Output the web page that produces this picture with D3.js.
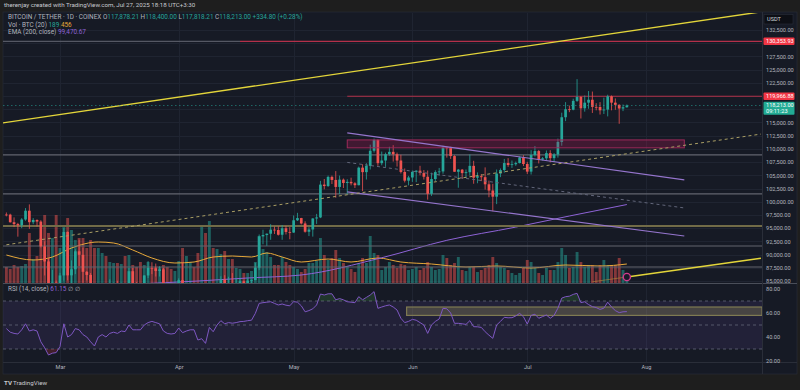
<!DOCTYPE html>
<html>
<head>
<meta charset="utf-8">
<script src="https://d3js.org/d3.v7.min.js"></script>
<style>
  body { margin: 0; background: #1e1e1e; }
  svg { display: block; font-family: Roboto, "Noto Sans", sans-serif; }
</style>
</head>
<body>
<svg id="chart" width="800" height="390"></svg>
<script>
// ---- data (daily BTC/USDT, CoinEx, Feb 15 - Jul 27 2025) ----
const firstDay = Date.UTC(2025, 1, 15);

// [open, high, low, close]
const ohlc = [
  [97580,97970,97230,97560],[97560,97730,96050,96120],[96120,97040,95200,95770],[95770,96000,93390,95540],
  [95540,96900,95000,96640],[96640,98800,96400,98300],[98300,99500,94870,96130],[96130,96900,95750,96550],
  [96550,96670,95300,96250],[96250,96500,91350,91550],[91550,92500,86050,88700],[88700,89300,82250,84250],
  [84250,87100,82750,84700],[84700,85100,78250,84350],
  // Mar
  [84350,86550,83800,86050],[86050,95000,85050,94270],[94270,94400,85100,86070],[86070,88900,81400,87220],
  [87220,91000,86300,90620],[90620,92800,87850,89960],[89960,91300,84650,86740],[86740,86900,85100,86150],
  [86150,86500,80000,80730],[80730,84100,77450,78600],[78600,83600,76550,82930],[82930,84350,80650,83680],
  [83680,84300,79950,81100],[81100,85300,80800,83980],[83980,84700,83650,84340],[84340,85050,82000,82580],
  [82580,84700,82400,84010],[84010,84050,81150,82720],[82720,87450,82600,86850],[86850,87450,83650,84170],
  [84170,84800,83200,84040],[84040,84600,83650,83830],[83830,86100,83200,86050],[86050,88750,85550,87500],
  [87500,88550,86300,87400],[87400,88300,85850,86900],[86900,87800,85850,87200],[87200,87500,83650,84350],
  [84350,84550,81650,82650],[82650,83500,81550,82390],[82390,83950,81300,82550],
  // Apr
  [82550,85500,82450,85160],[85160,88500,82300,82520],[82520,83950,81200,83100],[83100,84700,81650,83850],
  [83850,84250,82350,83500],[83500,83800,77150,78400],[78400,81250,74500,79150],[79150,80850,76150,76300],
  [76300,83550,74600,82600],[82600,82700,78450,79600],[79600,84250,78950,83420],[83420,85900,82800,85280],
  [85280,86100,83050,83740],[83740,85800,83680,84540],[84540,86500,83600,83670],[83670,85500,83100,84030],
  [84030,85450,83750,84940],[84940,85100,84250,84450],[84450,85600,84350,85060],[85060,85300,83950,85170],
  [85170,88450,85150,87520],[87520,93800,87050,93440],[93440,94700,91950,93700],[93700,94000,91650,93950],
  [93950,95750,92800,94720],[94720,95300,93900,94650],[94650,95350,93600,93750],[93750,95600,92800,94980],
  [94980,95450,93800,94280],[94280,95200,92900,94170],
  // May
  [94170,97400,94100,96490],[96490,97900,96350,96910],[96910,96950,95700,95890],[95890,96300,94150,94320],
  [94320,95200,93500,94750],[94750,96900,93400,96830],[96830,97700,95800,97030],[97030,103950,96900,103240],
  [103240,104300,102350,102970],[102970,104950,102800,104700],[104700,104950,103350,104120],[104120,105800,100750,102800],
  [102800,104950,101450,104180],[104180,104400,102600,103550],[103550,104250,101400,103760],[103760,104550,103100,103490],
  [103490,103700,102600,103130],[103130,106650,103100,106450],[106450,107100,102000,105600],[105600,107300,104200,106790],
  [106790,110800,106100,109650],[109650,111950,109300,111700],[111700,111800,106800,107300],[107300,109500,106900,107800],
  [107800,109300,106600,109000],[109000,110400,108700,109440],[109440,110700,107600,108990],[108990,109300,106650,107800],
  [107800,108900,105350,105640],[105640,106300,103650,103990],[103990,104900,103100,104590],
  // Jun
  [104590,105900,103750,105650],[105650,105950,103700,105880],[105880,106800,105000,105430],[105430,106000,104200,104730],
  [104730,105900,100400,101510],[101510,105500,101100,104290],[104290,105950,103900,105610],[105610,106400,104950,105730],
  [105730,110600,105300,110260],[110260,110400,108350,110250],[110250,110400,108100,108640],[108640,108800,105700,105670],
  [105670,106200,102650,106070],[106070,106200,104300,105420],[105420,106100,104500,105590],[105590,108950,104950,106790],
  [106790,107750,103400,104550],[104550,105550,103500,104830],[104830,105250,103900,104650],[104650,106500,102300,103300],
  [103300,104000,100850,102120],[102120,103400,98200,100960],[100960,106100,99550,105330],[105330,106300,104650,106000],
  [106000,108100,105500,107320],[107320,108250,106600,106950],[106950,107800,106400,107100],[107100,107600,106800,107320],
  [107320,108550,107250,108380],[108380,108800,106750,107140],
  // Jul
  [107140,107550,105250,105700],[105700,109750,105150,108850],[108850,110550,108550,109590],[109590,109800,107250,107980],
  [107980,108450,107800,108220],[108220,109700,107800,109200],[109200,109750,107450,108250],[108250,109200,107500,108950],
  [108950,111950,108350,111320],[111320,116850,110600,115990],[115990,118850,115250,117500],[117500,118200,116950,117420],
  [117420,119500,117300,119090],[119090,123200,118900,119840],[119840,119950,115750,117680],[117680,120100,117050,118750],
  [118750,120950,117600,119300],[119300,120850,116800,117950],[117950,118650,117300,117930],[117930,118850,116500,117300],
  [117300,119700,116600,117440],[117440,120250,116150,119950],[119950,120100,117300,118750],[118750,119550,117400,118340],
  [118340,118450,114750,117640],[117640,118400,117150,117880],[117878.21,118400,117818.21,118213]
];

// volume, BTC
const volume = [
  384,336,432,384,408,456,1200,576,648,1080,1632,1200,1080,1632,
  840,1368,1560,1272,1032,1080,1080,840,1032,840,840,720,648,504,480,480,456,648,672,432,384,504,432,504,360,384,384,432,384,336,288,
  528,840,648,504,384,720,1392,1200,1488,840,816,696,768,576,576,360,336,240,240,288,504,1128,816,744,624,432,432,624,504,432,
  384,336,264,336,480,480,528,1080,672,552,600,792,600,480,408,336,264,480,600,480,1128,720,672,312,384,504,432,360,456,432,312,
  336,384,312,360,504,384,312,336,672,600,432,480,624,312,288,384,384,264,312,360,432,624,480,384,360,312,240,192,240,360,
  552,504,360,240,192,360,312,312,504,840,672,360,384,744,504,384,432,432,264,432,552,432,432,432,600,312,189
];

// Vol MA(20) read at sample dates
const volMA = [
  ["2025-02-15",672],["2025-02-22",552],["2025-02-27",624],["2025-03-04",840],["2025-03-11",984],["2025-03-15",960],
  ["2025-03-20",792],["2025-03-25",600],["2025-03-31",480],["2025-04-05",504],["2025-04-10",624],["2025-04-15",648],
  ["2025-04-20",624],["2025-04-24",720],["2025-04-28",624],["2025-05-03",504],["2025-05-10",576],["2025-05-16",504],
  ["2025-05-23",600],["2025-05-29",504],["2025-06-06",456],["2025-06-15",384],["2025-06-23",408],["2025-07-02",360],
  ["2025-07-11",432],["2025-07-20",408],["2025-07-27",456]
];

// EMA(200) read at sample dates
const ema200 = [
  ["2025-03-20",84400],["2025-04-06",85000],["2025-04-19",85570],["2025-05-03",86140],["2025-05-24",89400],
  ["2025-06-10",92700],["2025-06-28",95200],["2025-07-12",97300],["2025-07-27",99470.67]
];

// RSI(14)
const rsi = [
  47,44,43,42.5,46,51,45,46,45,36,31,25,26.5,27,
  32,51,40,42,47,46,42,40,36,32.5,40,42,40,43,44,43,45,44.5,50,46,46,46,50,52,53,52,51,45,43,42.5,43,
  47.5,43.6,45,46,46,37.5,38.6,34.7,48,44.4,50,53.6,51,52,51.5,52,52.8,53,53.6,54,59.7,68,68.6,69,69.4,68,66.7,67.5,66.5,66,
  69.5,69,66,61,62,63.5,66.7,75.8,75,76,76,71,72,71,69.4,69,68.6,73.6,71,73,75,77.8,63.9,65,66,66.7,65,62.5,55.6,52,53,
  54.7,54,52,50,43,50,53,55,63.9,63.5,60,51.4,51.4,51,50.5,53.6,48.6,48.5,48,44.4,41.5,38.9,50,53,56.4,56,56.1,57.5,59.7,56.9,
  50.8,58,59,55.6,57,58.3,55.6,58,64,72.4,73.6,74,75.5,76.4,68.6,69.4,67,65.3,64.5,63,64,69,65,62,60.3,61,61.15
];

const priceTicks = d3.range(85000, 133000, 2500).filter(v => ![117500, 120000, 130000].includes(v));
const rsiTicks = [80, 60, 40, 20];
const months = ["2025-03-01","2025-04-01","2025-05-01","2025-06-01","2025-07-01","2025-08-01"];

// horizontal levels & drawings
const grayLevels = [108860, 101480, 91630, 87650];
const oliveLevel = 95400;
const topLevel = { price: 130353.93, from: "2025-04-17" };
const resLevel = { price: 119966.88, from: "2025-05-15" };
const supplyBox = { from: "2025-05-15", to: "2025-08-11", lo: 110200, hi: 111700 };
const channelTop = [["2025-05-15",113030],["2025-08-11",104130]];
const channelBot = [["2025-05-15",101860],["2025-08-11",93520]];
const channelMid = [["2025-05-15",107445],["2025-08-11",98825]];
const trendMain = [["2025-02-14",114910],["2025-08-31",135930]];
const trendDash = [["2025-02-15",91856],["2025-08-31",112803]];
const trendLow = [["2025-07-27",85760],["2025-08-31",89300]];
const trendLowFaint = [["2025-07-18",84850],["2025-07-27",85760]];
const rsiBox = { from: "2025-05-30T12:00:00Z", lo: 58, hi: 65 };
const lastPrice = 118213.00;

// ---- setup ----
const svg = d3.select("#chart");
const W = 800, H = 390;
const L = 3, R = 762, priceTop = 13, priceBot = 283, rsiTop = 284, rsiBot = 362, axisBot = 374;
const teal = "#26a69a", red = "#ef5350";
const pd = s => new Date(s.length > 10 ? s : s + "T00:00:00Z");
const dayDate = i => new Date(firstDay + i * 864e5);

const x = d3.scaleUtc().domain([pd("2025-03-01"), pd("2025-08-01")]).range([60, 646]);
const y = d3.scaleLinear().domain([85000, 132500]).range([281, 30]);
const yVol = d3.scaleLinear().domain([0, 1800]).range([priceBot, priceBot - 75]);
const yR = d3.scaleLinear().domain([20, 80]).range([361, 289]);

svg.append("rect").attr("width", W).attr("height", H).attr("fill", "#1e1e1e");
svg.append("rect").attr("x", L).attr("y", 12).attr("width", 794).attr("height", axisBot - 12)
  .attr("fill", "#161a25").attr("stroke", "#2a2e39").attr("stroke-width", 0.6);

const defs = svg.append("defs");
defs.append("clipPath").attr("id", "cp").append("rect")
  .attr("x", L).attr("y", priceTop).attr("width", R - L).attr("height", priceBot - priceTop);
defs.append("clipPath").attr("id", "cr").append("rect")
  .attr("x", L).attr("y", rsiTop).attr("width", R - L).attr("height", rsiBot - rsiTop);
defs.append("clipPath").attr("id", "crOver").append("rect")
  .attr("x", L).attr("y", rsiTop).attr("width", R - L).attr("height", yR(70) - rsiTop);
defs.append("clipPath").attr("id", "crUnder").append("rect")
  .attr("x", L).attr("y", yR(30)).attr("width", R - L).attr("height", rsiBot - yR(30));

// grid
const grid = svg.append("g").attr("stroke", "#1f2431").attr("stroke-width", 1);
grid.selectAll(".h").data(d3.range(85000, 133000, 2500)).join("line")
  .attr("x1", L).attr("x2", R).attr("y1", d => Math.round(y(d)) + 0.5).attr("y2", d => Math.round(y(d)) + 0.5);
grid.selectAll(".v").data(months).join("line")
  .attr("x1", d => Math.round(x(pd(d))) + 0.5).attr("x2", d => Math.round(x(pd(d))) + 0.5)
  .attr("y1", priceTop).attr("y2", rsiBot);

// ---- price pane ----
const P = svg.append("g").attr("clip-path", "url(#cp)");

// volume
const bw = 2.9;
P.append("g").selectAll("rect").data(volume).join("rect")
  .attr("x", (d, i) => x(dayDate(i)) - bw / 2)
  .attr("width", bw)
  .attr("y", d => yVol(d))
  .attr("height", d => priceBot - yVol(d))
  .attr("fill", (d, i) => ohlc[i][3] >= ohlc[i][0] ? teal : red)
  .attr("opacity", 0.5);

P.append("path").datum(volMA)
  .attr("fill", "none").attr("stroke", "#e8a93a").attr("stroke-width", 1)
  .attr("d", d3.line().curve(d3.curveMonotoneX).x(d => x(pd(d[0]))).y(d => yVol(d[1])));

// EMA 200
P.append("path").datum(ema200)
  .attr("fill", "none").attr("stroke", "#8e63d6").attr("stroke-width", 1)
  .attr("d", d3.line().curve(d3.curveMonotoneX).x(d => x(pd(d[0]))).y(d => y(d[1])));

// horizontal levels
P.selectAll(".gl").data(grayLevels).join("line")
  .attr("x1", L).attr("x2", R).attr("y1", d => y(d)).attr("y2", d => y(d))
  .attr("stroke", "#62656f").attr("stroke-width", 1.1);
P.append("line").attr("x1", L).attr("x2", R).attr("y1", y(oliveLevel)).attr("y2", y(oliveLevel))
  .attr("stroke", "#716b47").attr("stroke-width", 2);
P.append("line").attr("x1", L).attr("x2", x(pd(topLevel.from))).attr("y1", y(topLevel.price)).attr("y2", y(topLevel.price))
  .attr("stroke", "#555864").attr("stroke-width", 1.1);
[topLevel, resLevel].forEach(l => {
  P.append("line").attr("x1", x(pd(l.from))).attr("x2", R).attr("y1", y(l.price)).attr("y2", y(l.price))
    .attr("stroke", "#b3304a").attr("stroke-width", 1.2);
});

// candles
const cw = 2.7;
const cg = P.append("g").selectAll("g").data(ohlc).join("g");
cg.append("line")
  .attr("x1", (d, i) => x(dayDate(i))).attr("x2", (d, i) => x(dayDate(i)))
  .attr("y1", d => y(d[1])).attr("y2", d => y(d[2]))
  .attr("stroke", d => d[3] >= d[0] ? teal : red).attr("stroke-width", 0.8);
cg.append("rect")
  .attr("x", (d, i) => x(dayDate(i)) - cw / 2).attr("width", cw)
  .attr("y", d => y(Math.max(d[0], d[3])))
  .attr("height", d => Math.max(0.8, Math.abs(y(d[0]) - y(d[3]))))
  .attr("fill", d => d[3] >= d[0] ? teal : red);

// drawings
const seg = (pts, color, w, dash) => P.append("line")
  .attr("x1", x(pd(pts[0][0]))).attr("y1", y(pts[0][1]))
  .attr("x2", x(pd(pts[1][0]))).attr("y2", y(pts[1][1]))
  .attr("stroke", color).attr("stroke-width", w).attr("stroke-dasharray", dash || null);

P.append("rect")
  .attr("x", x(pd(supplyBox.from))).attr("width", x(pd(supplyBox.to)) - x(pd(supplyBox.from)))
  .attr("y", y(supplyBox.hi)).attr("height", y(supplyBox.lo) - y(supplyBox.hi))
  .attr("fill", "rgba(194,24,91,0.25)").attr("stroke", "#9c2a5a").attr("stroke-width", 1);

seg(channelTop, "#9575cd", 1.1);
seg(channelBot, "#9575cd", 1.1);
seg(channelMid, "#62667a", 1, "3,3");
seg(trendMain, "#e3d53a", 1.4);
seg(trendDash, "#a99e64", 1, "3,3");
seg(trendLowFaint, "#b48a3a", 1).attr("opacity", 0.6);
seg(trendLow, "#e3d53a", 1.4);
P.append("circle").attr("cx", x(pd(trendLow[0][0]))).attr("cy", y(trendLow[0][1])).attr("r", 3.6)
  .attr("fill", "#1a1a2a").attr("stroke", "#d23a8c").attr("stroke-width", 1.4);

// last price line
P.append("line").attr("x1", L).attr("x2", R).attr("y1", y(lastPrice)).attr("y2", y(lastPrice))
  .attr("stroke", teal).attr("stroke-width", 0.7).attr("stroke-dasharray", "1.5,2.5").attr("opacity", 0.8);

// pane separators
svg.append("line").attr("x1", L).attr("x2", 797).attr("y1", priceBot + 0.5).attr("y2", priceBot + 0.5)
  .attr("stroke", "#4a4e59").attr("stroke-width", 1.2);
svg.append("line").attr("x1", L).attr("x2", 797).attr("y1", rsiBot + 0.5).attr("y2", rsiBot + 0.5)
  .attr("stroke", "#2a2e39").attr("stroke-width", 1);
svg.append("line").attr("x1", R + 0.5).attr("x2", R + 0.5).attr("y1", 12).attr("y2", axisBot)
  .attr("stroke", "#2a2e39").attr("stroke-width", 1);

// ---- RSI pane ----
const Rg = svg.append("g").attr("clip-path", "url(#cr)");
Rg.append("rect").attr("x", L).attr("width", R - L).attr("y", yR(70)).attr("height", yR(30) - yR(70))
  .attr("fill", "rgba(126,87,194,0.12)");
[70, 50, 30].forEach(v => Rg.append("line").attr("x1", L).attr("x2", R).attr("y1", yR(v)).attr("y2", yR(v))
  .attr("stroke", "#63677a").attr("stroke-width", 0.8).attr("stroke-dasharray", "3,3"));

Rg.append("rect")
  .attr("x", x(pd(rsiBox.from))).attr("width", R - x(pd(rsiBox.from)))
  .attr("y", yR(rsiBox.hi)).attr("height", yR(rsiBox.lo) - yR(rsiBox.hi))
  .attr("fill", "rgba(150,140,90,0.33)").attr("stroke", "#7f7a52").attr("stroke-width", 1.2);

const rx = (d, i) => x(dayDate(i));
Rg.append("path").datum(rsi).attr("clip-path", "url(#crOver)")
  .attr("fill", "rgba(76,175,80,0.18)")
  .attr("d", d3.area().x(rx).y0(yR(70)).y1(d => yR(d)));
Rg.append("path").datum(rsi).attr("clip-path", "url(#crUnder)")
  .attr("fill", "rgba(242,54,69,0.2)")
  .attr("d", d3.area().x(rx).y0(yR(30)).y1(d => yR(d)));
Rg.append("path").datum(rsi)
  .attr("fill", "none").attr("stroke", "#7e57c2").attr("stroke-width", 1)
  .attr("d", d3.line().x(rx).y(d => yR(d)));

// ---- axes ----
const axisTxt = "#b2b5be";
const pa = svg.append("g").attr("transform", `translate(${R},0)`)
  .call(d3.axisRight(y).tickValues(priceTicks).tickFormat(d3.format(",.2f")).tickSize(0).tickPadding(4));
pa.select(".domain").remove();
pa.selectAll("text").attr("fill", axisTxt).attr("font-size", 5.6).attr("font-family", "Roboto");

const ra = svg.append("g").attr("transform", `translate(${R},0)`)
  .call(d3.axisRight(yR).tickValues(rsiTicks).tickFormat(d3.format(".2f")).tickSize(0).tickPadding(4));
ra.select(".domain").remove();
ra.selectAll("text").attr("fill", axisTxt).attr("font-size", 5.6).attr("font-family", "Roboto");

const ta = svg.append("g").attr("transform", `translate(0,${rsiBot})`)
  .call(d3.axisBottom(x).tickValues(months.map(pd)).tickFormat(d3.utcFormat("%b")).tickSize(0).tickPadding(3));
ta.select(".domain").remove();
ta.selectAll("text").attr("fill", axisTxt).attr("font-size", 5.6).attr("font-family", "Roboto");

// price labels on axis
const axisLabel = (price, bg, lines) => {
  const yy = y(price);
  const h = lines.length > 1 ? 13 : 7.5;
  svg.append("rect").attr("x", R + 1.5).attr("y", yy - 3.8).attr("width", 31).attr("height", h)
    .attr("rx", 1).attr("fill", bg);
  lines.forEach((t, k) => svg.append("text").attr("x", R + 4).attr("y", yy + 2 + k * 6)
    .attr("fill", "#fff").attr("font-size", 5.6).text(t));
};
axisLabel(topLevel.price, "#f23645", [d3.format(",.2f")(topLevel.price)]);
axisLabel(resLevel.price, "#f23645", [d3.format(",.2f")(resLevel.price)]);
axisLabel(lastPrice, "#22ab94", [d3.format(",.2f")(lastPrice), "09:11:23"]);

svg.append("rect").attr("x", R + 2).attr("y", 14.5).attr("width", 29).attr("height", 9.5)
  .attr("fill", "#0d0f15").attr("stroke", "#2a2e39").attr("stroke-width", 0.6);
svg.append("text").attr("x", R + 5).attr("y", 21.2).attr("fill", "#d1d4dc").attr("font-size", 5.6).text("USDT");

// ---- texts ----
svg.append("text").attr("x", 4).attr("y", 7.2).attr("fill", "#c8cad0").attr("font-size", 6.2)
  .text("therenjay created with TradingView.com, Jul 27, 2025 18:18 UTC+3:30");

const legend = (yy, parts) => {
  const t = svg.append("text").attr("x", 8).attr("y", yy).attr("font-size", 6.4);
  parts.forEach(([s, c]) => t.append("tspan").attr("fill", c).text(s));
};
const lg = "#b2b5be";
legend(19.3, [["BITCOIN / TETHER · 1D · COINEX  ", lg], ["O", lg], ["117,878.21 ", teal], ["H", lg], ["118,400.00 ", teal],
  ["L", lg], ["117,818.21 ", teal], ["C", lg], ["118,213.00 ", teal], ["+334.80 (+0.28%)", teal]]);
legend(26.8, [["Vol · BTC (20)  ", lg], ["189  ", teal], ["456", "#e8a93a"]]);
legend(34.3, [["EMA (200, close)  ", lg], ["99,470.67", "#8e63d6"]]);
legend(291, [["RSI (14, close)  ", lg], ["61.15  ", "#8e63d6"], ["∅  ∅", lg]]);

svg.append("text").attr("x", 4).attr("y", 384.5).attr("fill", "#c8cad0").attr("font-size", 6.2)
  .attr("font-weight", "bold").text("TV");
svg.append("text").attr("x", 13).attr("y", 384.5).attr("fill", "#c8cad0").attr("font-size", 6.2)
  .text("TradingView");
</script>
</body>
</html>
